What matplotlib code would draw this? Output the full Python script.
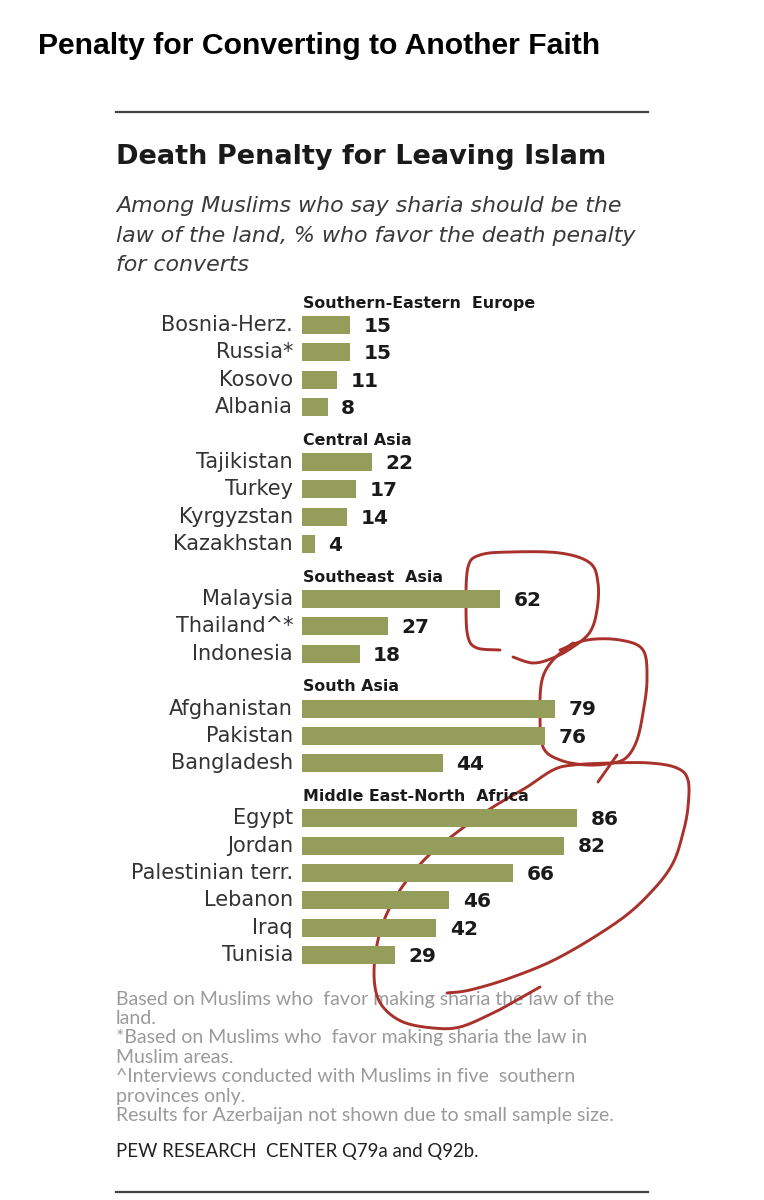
import numpy as np
import matplotlib.pyplot as plt

# data
groups = ['Southern-Eastern  Europe', 'Central Asia', 'Southeast  Asia',
          'South Asia', 'Middle East-North  Africa']
europe = ['Bosnia-Herz.', 'Russia*', 'Kosovo', 'Albania']
europe_vals = [15, 15, 11, 8]
central = ['Tajikistan', 'Turkey', 'Kyrgyzstan', 'Kazakhstan']
central_vals = [22, 17, 14, 4]
southeast = ['Malaysia', 'Thailand^*', 'Indonesia']
southeast_vals = [62, 27, 18]
south = ['Afghanistan', 'Pakistan', 'Bangladesh']
south_vals = [79, 76, 44]
mena = ['Egypt', 'Jordan', 'Palestinian terr.', 'Lebanon', 'Iraq', 'Tunisia']
mena_vals = [86, 82, 66, 46, 42, 29]

group_names = [europe, central, southeast, south, mena]
group_vals = [europe_vals, central_vals, southeast_vals, south_vals, mena_vals]

footnotes = ['Based on Muslims who  favor making sharia the law of the',
             'land.',
             '*Based on Muslims who  favor making sharia the law in',
             'Muslim areas.',
             '^Interviews conducted with Muslims in five  southern',
             'provinces only.',
             'Results for Azerbaijan not shown due to small sample size.']

BAR = '#949d5a'
W, H = 764, 1200

fig = plt.figure(figsize=(W / 100, H / 100), dpi=100)

# overlay in pixel coordinates for titles, rules and notes
ov = fig.add_axes([0, 0, 1, 1])
ov.set_xlim(0, W)
ov.set_ylim(H, 0)
ov.axis('off')

ov.text(38, 54, 'Penalty for Converting to Another Faith', fontsize=21.7, fontweight='bold',
        family=['Liberation Sans', 'DejaVu Sans'], va='baseline', ha='left', color='black')
ov.plot([116, 648], [112, 112], color='#444444', lw=1.6)
ov.text(116, 157, 'Death Penalty for Leaving Islam', fontsize=19.5, fontweight='bold',
        family=['DejaVu Sans'], va='center', ha='left', color='#1a1a1a')
sub = ['Among Muslims who say sharia should be the',
       'law of the land, % who favor the death penalty',
       'for converts']
for i, s in enumerate(sub):
    ov.text(116, 206 + i * 29.5, s, fontsize=15.9, style='italic', family=['DejaVu Sans'],
            va='center', ha='left', color='#3a3a3a')

for i, s in enumerate(footnotes):
    ov.text(116, 999 + i * 19.5, s, fontsize=14, family=['Lato', 'DejaVu Sans'],
            va='center', ha='left', color='#9a9a9a')
ov.text(116, 1152, 'PEW RESEARCH  CENTER Q79a and Q92b.', fontsize=13.4,
        family=['Lato', 'DejaVu Sans'], va='center', ha='left', color='#222222')
ov.plot([116, 648], [1192, 1192], color='#444444', lw=1.6)

# bar axes: 1 unit = 3.2 px, rows 27.4 px apart
row_px = 27.4
x0_px, y0_px = 302, 325
ax = fig.add_axes([x0_px / W, (H - (y0_px + 24 * row_px)) / H,
                   320 / W, 25 * row_px / H])
ax.set_xlim(0, 100)
ax.set_ylim(24, -1)
ax.axis('off')

row = 0
for g, names, vals in zip(groups, group_names, group_vals):
    ax.text(0.3, row - 0.8, g, fontsize=11.4, fontweight='bold', family=['DejaVu Sans'],
            va='center', ha='left', color='#1a1a1a')
    ys = np.arange(row, row + len(names))
    ax.barh(ys, vals, height=0.66, color=BAR)
    for y, n, v in zip(ys, names, vals):
        ax.text(-2.8, y, n, fontsize=15, family=['DejaVu Sans'], va='center', ha='right',
                color='#333333')
        ax.text(v + 4.2, y + 0.05, str(v), fontsize=14.5, fontweight='bold',
                family=['DejaVu Sans'], va='center', ha='left', color='#1a1a1a')
    row += len(names) + 1


# hand-drawn red marks on the picture
def smooth(pts, n=12):
    p = np.array(pts, dtype=float)
    p = np.vstack([p[0], p, p[-1]])
    out = []
    for i in range(1, len(p) - 2):
        a, b, c, d = p[i - 1], p[i], p[i + 1], p[i + 2]
        for t in np.linspace(0, 1, n, endpoint=False):
            out.append(0.5 * (2 * b + (-a + c) * t + (2 * a - 5 * b + 4 * c - d) * t ** 2
                              + (-a + 3 * b - 3 * c + d) * t ** 3))
    out.append(p[-2])
    return np.array(out)


loop1 = [(500, 650), (477, 648), (468, 637), (466, 607), (468, 567), (480, 555), (510, 552),
         (560, 553), (590, 563), (598, 583), (597, 610), (590, 632), (573, 647), (553, 658),
         (533, 663), (513, 657)]
loop2 = [(560, 650), (587, 640), (620, 640), (643, 650), (647, 680), (643, 713), (637, 740),
         (627, 757), (613, 763), (587, 765), (560, 760), (543, 747), (540, 713), (542, 680),
         (553, 660), (573, 643)]
tail = [(617, 755), (598, 782)]
loop3 = [(447, 993), (470, 990), (510, 978), (560, 957), (620, 920), (653, 890), (673, 863),
         (683, 833), (688, 807), (688, 780), (677, 768), (650, 763), (610, 763), (573, 765),
         (553, 770), (527, 787), (493, 807), (460, 830), (427, 857), (400, 890), (383, 923),
         (375, 957), (375, 987), (383, 1007), (403, 1022), (433, 1028), (460, 1027),
         (493, 1013), (517, 1000), (540, 987)]
for pts in [loop1, loop2, tail, loop3]:
    c = smooth(pts)
    ov.plot(c[:, 0], c[:, 1], color='#a8322b', lw=2.1, solid_capstyle='round', zorder=5)

fig.savefig('out.png', dpi=100)
